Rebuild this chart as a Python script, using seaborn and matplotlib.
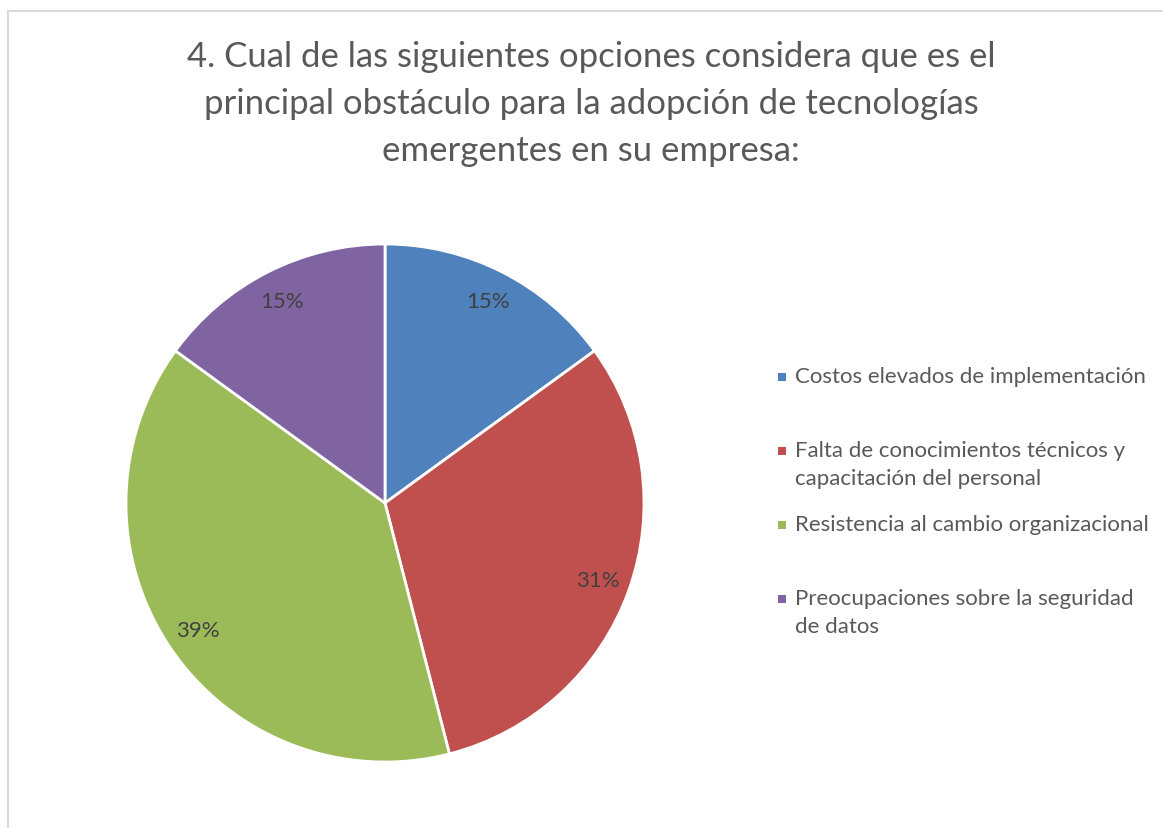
import seaborn as sns
import matplotlib.pyplot as plt
from matplotlib.patches import Rectangle

categories = ["Costos elevados de implementación",
              "Falta de conocimientos técnicos y\ncapacitación del personal",
              "Resistencia al cambio organizacional",
              "Preocupaciones sobre la seguridad\nde datos"]
percentages = [15, 31, 39, 15]
colors = ["#4F81BD", "#C0504D", "#9BBB59", "#8064A2"]
title = ("4. Cual de las siguientes opciones considera que es el\n"
         "principal obstáculo para la adopción de tecnologías\n"
         "emergentes en su empresa:")

sns.set_theme(style="white")
plt.rcParams['font.family'] = ['Lato', 'DejaVu Sans']

W, H = 1163, 829
fig = plt.figure(figsize=(W / 100, H / 100), dpi=100)
fig.patch.set_facecolor("white")

# pie axes: center (385, 504) px, radius 259 px
cx, cy, r = 385, 504, 259
ax = fig.add_axes([(cx - r) / W, (H - cy - r) / H, 2 * r / W, 2 * r / H])
wedges, texts, autotexts = ax.pie(percentages, colors=colors, startangle=90, counterclock=False,
                                  autopct='%1.0f%%', pctdistance=0.875,
                                  wedgeprops=dict(edgecolor="white", linewidth=2),
                                  textprops=dict(color="#404040", fontsize=16))
ax.set_xlim(-1, 1)
ax.set_ylim(-1, 1)
ax.set_aspect('equal')

fig.text(591 / W, 1 - 104 / H, title, ha='center', va='center', fontsize=25,
         color="#595959", linespacing=1.58)

# legend, slots of 74 px starting at y=378
for i, (lab, col) in enumerate(zip(categories, colors)):
    y = 378 + 74 * i
    fig.add_artist(Rectangle((778 / W, 1 - (y + 4) / H), 8 / W, 8 / H,
                             transform=fig.transFigure, facecolor=col, edgecolor='none'))
    fig.text(795 / W, 1 - (y - 11) / H, lab, ha='left', va='top', fontsize=16,
             color="#595959", linespacing=1.5)

# chart border
fig.add_artist(Rectangle((7.5 / W, -0.05), 1.1, 1 - 11.5 / H + 0.05, transform=fig.transFigure,
                         facecolor='none', edgecolor="#d9d9d9", linewidth=1.5))

fig.savefig("out.png", dpi=100)
